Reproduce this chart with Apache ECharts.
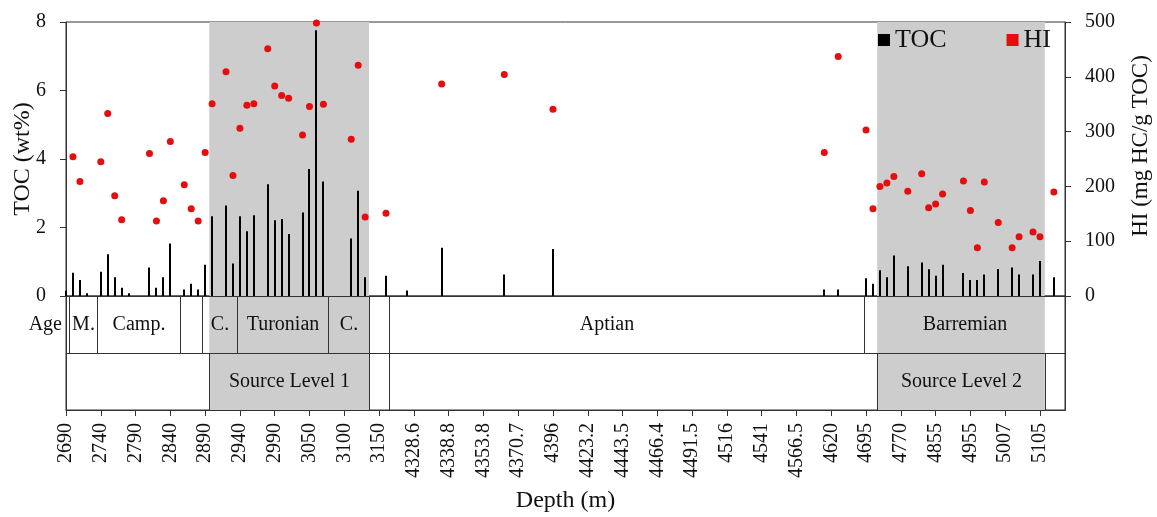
<!DOCTYPE html>
<html>
<head>
<meta charset="utf-8">
<script src="https://cdn.jsdelivr.net/npm/echarts@6/dist/echarts.min.js"></script>
<style>
  html, body { margin: 0; padding: 0; background: #fff; }
  #chart { width: 1157px; height: 517px; }
</style>
</head>
<body>
<div id="chart"></div>
<script>
// Depth label shown under every fifth sample of the log
const depthLabels = ['2690', '2740', '2790', '2840', '2890', '2940', '2990', '3050', '3100', '3150',
  '4328.6', '4338.8', '4353.8', '4370.7', '4396', '4423.2', '4443.5', '4466.4', '4491.5', '4516',
  '4541', '4566.5', '4620', '4695', '4770', '4855', '4955', '5007', '5105'];
const samplesPerLabel = 5;
const axisEnd = 143.6;

// TOC (wt%) by sample number
const tocSample = [0, 1, 2, 3, 5, 6, 7, 8, 9, 12, 13, 14, 15, 17, 18, 19, 20, 21, 23, 24, 25, 26, 27,
  29, 30, 31, 32, 34, 35, 36, 37, 41, 42, 43, 46, 49, 54, 63, 70, 109, 111, 115, 116, 117, 118, 119,
  121, 123, 124, 125, 126, 129, 130, 131, 132, 134, 136, 137, 139, 140, 142];
const tocValue = [0.15, 0.68, 0.47, 0.08, 0.71, 1.22, 0.55, 0.24, 0.08, 0.83, 0.24, 0.55, 1.53, 0.19,
  0.36, 0.19, 0.91, 2.33, 2.64, 0.95, 2.33, 1.89, 2.36, 3.26, 2.21, 2.25, 1.81, 2.44, 3.71, 7.76, 3.34,
  1.68, 3.07, 0.55, 0.59, 0.16, 1.41, 0.63, 1.37, 0.19, 0.19, 0.52, 0.36, 0.75, 0.55, 1.18, 0.87, 0.98,
  0.78, 0.59, 0.91, 0.67, 0.47, 0.47, 0.63, 0.79, 0.83, 0.63, 0.63, 1.02, 0.55];

// HI (mg HC/g TOC) by sample number
const hiSample = [1, 2, 5, 6, 7, 8, 12, 13, 14, 15, 17, 18, 19, 20, 21, 23, 24, 25, 26, 27, 29, 30, 31,
  32, 34, 35, 36, 37, 41, 42, 43, 46, 54, 63, 70, 109, 111, 115, 116, 117, 118, 119, 121, 123, 124, 125,
  126, 129, 130, 131, 132, 134, 136, 137, 139, 140, 142];
const hiValue = [254, 209, 245, 333, 183, 139, 260, 137, 174, 282, 203, 159, 137, 262, 351, 409, 220, 306,
  348, 351, 451, 383, 366, 361, 294, 346, 498, 350, 286, 421, 144, 151, 387, 404, 341, 262, 437, 303, 159,
  200, 206, 218, 191, 223, 161, 168, 186, 210, 156, 88, 208, 134, 88, 108, 117, 108, 190];

// Stratigraphic ages (sample ranges)
const ageNames = ['', 'M.', 'Camp.', '', 'C.', 'Turonian', 'C.', '', 'Aptian', 'Barremian'];
const ageFrom = [0, 0.45, 4.45, 16.4, 19.55, 24.6, 37.6, 43.55, 46.5, 114.7];
const ageTo = [0.45, 4.45, 16.4, 19.55, 24.6, 37.6, 43.55, 46.5, 114.7, axisEnd];

// Source rock intervals (sample ranges)
const sourceNames = ['', 'Source Level 1', '', '', 'Source Level 2', ''];
const sourceFrom = [0, 20.6, 43.55, 46.5, 116.6, 140.7];
const sourceTo = [20.6, 43.55, 46.5, 116.6, 140.7, axisEnd];

const FONT = "'Liberation Serif', 'Times New Roman', serif";
const INK = '#111';
const LINE = '#333';
const SHADE = '#cdcdcd';
const RED = '#e50d0d';

const tickValues = depthLabels.map((_, i) => i * samplesPerLabel);
const shadedIdx = sourceNames.map((n, i) => i).filter(i => sourceNames[i] !== '');
const ROW_AGE = 1, ROW_SOURCE = 0;

const labelShift = { 'Aptian': -20 };

const crisp = v => Math.round(v) + 0.5;

// Thin TOC column from zero up to the sample value
function tocBar(params, api) {
  const base = api.coord([api.value(0), 0]);
  const top = api.coord([api.value(0), api.value(1)]);
  return {
    type: 'rect',
    shape: { x: Math.round(base[0]) - 1, y: top[1], width: 2, height: base[1] - top[1] },
    style: { fill: '#000' }
  };
}

// Grey fill spanning both rows of the strip
function shadeItem(params, api) {
  const from = api.value(0), to = api.value(1);
  const a = api.coord([from, ROW_AGE]);
  const b = api.coord([to, ROW_SOURCE]);
  const h = api.size([0, 1])[1];
  const top = a[1] - h / 2, bottom = b[1] + h / 2;
  return {
    type: 'rect',
    shape: { x: a[0], y: top, width: b[0] - a[0], height: bottom - top },
    style: { fill: SHADE }
  };
}

// Outlined cell with centred caption
function cellItem(names) {
  return function (params, api) {
    const from = api.value(0), to = api.value(1), row = api.value(2);
    const a = api.coord([from, row]);
    const b = api.coord([to, row]);
    const h = api.size([0, 1])[1];
    const x0 = crisp(a[0]), x1 = crisp(b[0]);
    const y0 = crisp(a[1] - h / 2), y1 = crisp(a[1] + h / 2);
    const name = names[params.dataIndex];
    return {
      type: 'group',
      children: [
        { type: 'rect', shape: { x: x0, y: y0, width: x1 - x0, height: y1 - y0 },
          style: { fill: 'transparent', stroke: LINE, lineWidth: 1 } },
        { type: 'text', style: { text: name, x: (x0 + x1) / 2 + (labelShift[name] || 0), y: a[1],
          align: 'center', verticalAlign: 'middle', font: '20px ' + FONT, fill: INK } }
      ]
    };
  };
}

const chart = echarts.init(document.getElementById('chart'), null, { renderer: 'canvas' });

chart.setOption({
  animation: false,
  backgroundColor: '#fff',
  textStyle: { fontFamily: FONT, color: INK },
  legend: {
    data: ['TOC', 'HI'],
    left: 873,
    top: 22,
    icon: 'rect',
    itemWidth: 12,
    itemHeight: 12,
    itemGap: 60,
    textStyle: { fontFamily: FONT, fontSize: 26, color: INK }
  },
  grid: [
    { left: 66, right: 92, top: 22, height: 274, containLabel: false, outerBoundsMode: 'none',
      show: true, borderColor: LINE, borderWidth: 1 },
    { left: 66, right: 92, top: 296, height: 114, containLabel: false, outerBoundsMode: 'none',
      show: true, borderColor: LINE, borderWidth: 1 }
  ],
  xAxis: [
    {
      type: 'value', gridIndex: 0, min: 0, max: axisEnd,
      axisLine: { show: true, onZero: false, lineStyle: { color: LINE } },
      axisTick: { show: false }, axisLabel: { show: false }, splitLine: { show: false }
    },
    {
      type: 'value', gridIndex: 1, min: 0, max: axisEnd,
      name: 'Depth (m)', nameLocation: 'middle', nameGap: 79,
      nameTextStyle: { fontFamily: FONT, fontSize: 24, color: INK },
      axisLine: { show: true, onZero: false, lineStyle: { color: LINE } },
      axisTick: { show: true, customValues: tickValues, length: 6, lineStyle: { color: LINE } },
      axisLabel: {
        customValues: tickValues, rotate: 90, margin: 13,
        fontFamily: FONT, fontSize: 20, color: INK,
        formatter: v => depthLabels[Math.round(v / samplesPerLabel)] || ''
      },
      splitLine: { show: false }
    }
  ],
  yAxis: [
    {
      type: 'value', gridIndex: 0, min: 0, max: 8, interval: 2, position: 'left',
      name: 'TOC (wt%)', nameLocation: 'middle', nameRotate: 90, nameGap: 31,
      nameMoveOverlap: false,
      nameTextStyle: { fontFamily: FONT, fontSize: 24, color: INK },
      axisLine: { show: true, onZero: false, lineStyle: { color: LINE } },
      axisTick: { show: true, length: 6, lineStyle: { color: LINE } },
      axisLabel: { margin: 20, fontFamily: FONT, fontSize: 20, color: INK },
      splitLine: { show: false }
    },
    {
      type: 'value', gridIndex: 0, min: 0, max: 500, interval: 100, position: 'right',
      name: 'HI (mg HC/g TOC)', nameLocation: 'middle', nameRotate: 90, nameGap: 64,
      nameTextStyle: { fontFamily: FONT, fontSize: 23, color: INK, padding: [0, 0, 0, 26] },
      axisLine: { show: true, onZero: false, lineStyle: { color: LINE } },
      axisTick: { show: true, length: 6, lineStyle: { color: LINE } },
      axisLabel: { margin: 20, fontFamily: FONT, fontSize: 20, color: INK },
      splitLine: { show: false }
    },
    {
      type: 'category', gridIndex: 1, data: ['', 'Age'],
      axisLine: { show: false }, axisTick: { show: false },
      axisLabel: { margin: 4, fontFamily: FONT, fontSize: 20, color: INK }
    }
  ],
  series: [
    {
      name: 'TOC', type: 'custom', xAxisIndex: 0, yAxisIndex: 0, z: 2,
      itemStyle: { color: '#000' },
      renderItem: tocBar,
      data: tocSample.map((s, i) => [s, tocValue[i]])
    },
    {
      name: 'HI', type: 'scatter', xAxisIndex: 0, yAxisIndex: 1, z: 3,
      symbol: 'circle', symbolSize: 7,
      itemStyle: { color: RED, opacity: 1 },
      data: hiSample.map((s, i) => [s, hiValue[i]]),
      markArea: {
        silent: true,
        z: 1,
        itemStyle: { color: SHADE, opacity: 1 },
        data: shadedIdx.map(i => [{ xAxis: sourceFrom[i] }, { xAxis: sourceTo[i] }])
      }
    },
    {
      type: 'custom', xAxisIndex: 1, yAxisIndex: 2, z: 1, silent: true,
      renderItem: shadeItem,
      data: shadedIdx.map(i => [sourceFrom[i], sourceTo[i]])
    },
    {
      type: 'custom', xAxisIndex: 1, yAxisIndex: 2, z: 3, silent: true,
      renderItem: cellItem(ageNames),
      data: ageNames.map((n, i) => [ageFrom[i], ageTo[i], ROW_AGE])
    },
    {
      type: 'custom', xAxisIndex: 1, yAxisIndex: 2, z: 3, silent: true,
      renderItem: cellItem(sourceNames),
      data: sourceNames.map((n, i) => [sourceFrom[i], sourceTo[i], ROW_SOURCE])
    }
  ]
});
</script>
</body>
</html>
